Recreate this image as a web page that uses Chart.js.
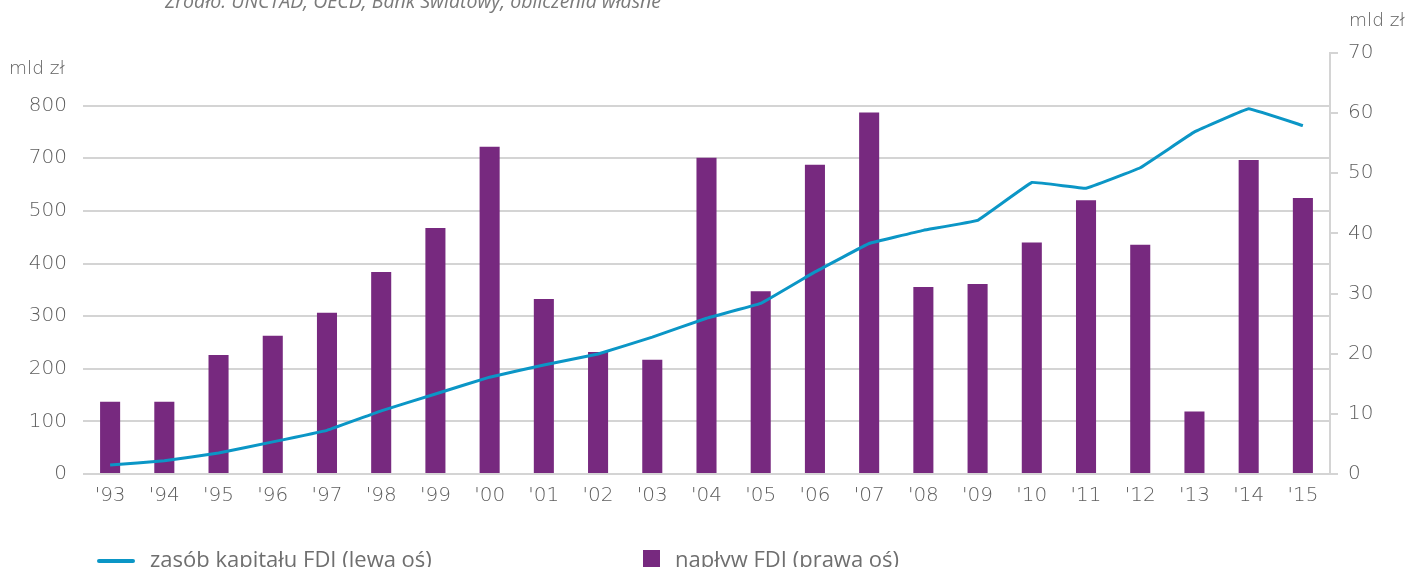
<!DOCTYPE html>
<html lang="pl">
<head>
<meta charset="utf-8">
<title>FDI w Polsce</title>
<script src="https://cdn.jsdelivr.net/npm/chart.js@4.4.1/dist/chart.umd.min.js"></script>
<style>
    html, body { margin: 0; padding: 0; background: #fff; overflow: hidden; }
    #wrap { position: relative; width: 1412px; height: 567px; }
    #chart { position: absolute; left: 0; top: 0; }
    .txt { position: absolute; font-family: "Open Sans", sans-serif; color: #6f6f6f; white-space: nowrap; }
    #source { left: 165px; top: -13px; font-size: 19.5px; font-style: italic; color: #7a7a7a; }
    .unit { font-family: "DejaVu Sans", sans-serif; font-weight: 300; font-size: 18.5px; color: #5e5e5e; }
    #unitLeft { left: 9px; top: 57px; }
    #unitRight { left: 1349px; top: 9px; }
    .legend { top: 543px; font-size: 22px; }
    #legLine { left: 97px; }
    #legBar { left: 643px; }
    .swLine { display: inline-block; width: 38px; height: 4px; background: #0b96c6; border-radius: 2px; vertical-align: middle; margin-right: 15px; }
    .swBar { display: inline-block; width: 17px; height: 17px; background: #77297f; vertical-align: middle; margin-right: 15px; margin-top: -6px; }
</style>
</head>
<body>
<div id="wrap">
    <canvas id="chart" width="1412" height="567"></canvas>
    <div class="txt" id="source">Źródło: UNCTAD, OECD, Bank Światowy, obliczenia własne</div>
    <div class="txt unit" id="unitLeft">mld zł</div>
    <div class="txt unit" id="unitRight">mld zł</div>
    <div class="txt legend" id="legLine"><span class="swLine"></span>zasób kapitału FDI (lewa oś)</div>
    <div class="txt legend" id="legBar"><span class="swBar"></span>napływ FDI (prawa oś)</div>
</div>
<script>
// Data
const years = ["'93", "'94", "'95", "'96", "'97", "'98", "'99", "'00", "'01", "'02", "'03", "'04",
               "'05", "'06", "'07", "'08", "'09", "'10", "'11", "'12", "'13", "'14", "'15"];

// zasób kapitału FDI (lewa oś), mld zł
const fdiStock = [17, 25, 40, 61, 83, 120, 152, 184, 207, 228, 260, 296,
                  324, 384, 438, 463, 482, 554, 543, 582, 650, 694, 662];

// napływ FDI (prawa oś), mld zł
const fdiInflow = [12.0, 12.0, 19.8, 23.0, 26.8, 33.6, 40.9, 54.4, 29.1, 20.3, 19.0, 52.6,
                   30.4, 51.4, 60.1, 31.1, 31.6, 38.5, 45.5, 38.1, 10.4, 52.2, 45.9];

// left axis tick labels as printed in the original
const leftTickLabels = ['0', '100', '200', '300', '400', '500', '700', '800'];
const rightTicks = [0, 10, 20, 30, 40, 50, 60, 70];

const textColor = '#5e5e5e';
const gridColor = '#d4d4d4';
const tickFont = { family: 'DejaVu Sans', size: 20, weight: 300 };

const ctx = document.getElementById('chart').getContext('2d');
new Chart(ctx, {
    type: 'bar',
    data: {
        labels: years,
        datasets: [
            {
                type: 'line',
                label: 'zasób kapitału FDI (lewa oś)',
                data: fdiStock,
                yAxisID: 'yLeft',
                borderColor: '#0b96c6',
                borderWidth: 3,
                pointRadius: 0,
                tension: 0.05,
                fill: false,
                order: 0
            },
            {
                type: 'bar',
                label: 'napływ FDI (prawa oś)',
                data: fdiInflow,
                yAxisID: 'yRight',
                backgroundColor: '#77297f',
                borderWidth: 0,
                barPercentage: 0.37,
                categoryPercentage: 1.0,
                order: 1
            }
        ]
    },
    options: {
        responsive: false,
        animation: false,
        layout: {
            padding: { top: 53, bottom: 58, left: 0, right: 0 }
        },
        plugins: {
            legend: { display: false },
            tooltip: { enabled: false }
        },
        scales: {
            x: {
                offset: true,
                grid: { display: false },
                border: { display: false },
                ticks: {
                    color: textColor,
                    font: tickFont,
                    padding: 2,
                    maxRotation: 0,
                    autoSkip: false
                },
                afterFit: (scale) => { scale.height = 35; }
            },
            yLeft: {
                position: 'left',
                min: 0,
                max: 800,
                grid: {
                    color: gridColor,
                    lineWidth: 2,
                    drawTicks: false
                },
                border: { display: false },
                afterBuildTicks: (scale) => {
                    scale.ticks = leftTickLabels.map((t, i) => ({ value: i * 100 }));
                },
                ticks: {
                    color: textColor,
                    font: tickFont,
                    padding: 16,
                    callback: (value, i) => leftTickLabels[i]
                },
                afterFit: (scale) => { scale.width = 83; }
            },
            yRight: {
                position: 'right',
                min: 0,
                max: 70,
                grid: {
                    drawOnChartArea: false,
                    color: gridColor,
                    lineWidth: 2,
                    tickLength: 8
                },
                border: { display: true, color: gridColor, width: 2 },
                afterBuildTicks: (scale) => {
                    scale.ticks = rightTicks.map(v => ({ value: v }));
                },
                ticks: {
                    color: textColor,
                    font: tickFont,
                    padding: 10
                },
                afterFit: (scale) => { scale.width = 82; }
            }
        }
    }
});
</script>
</body>
</html>
